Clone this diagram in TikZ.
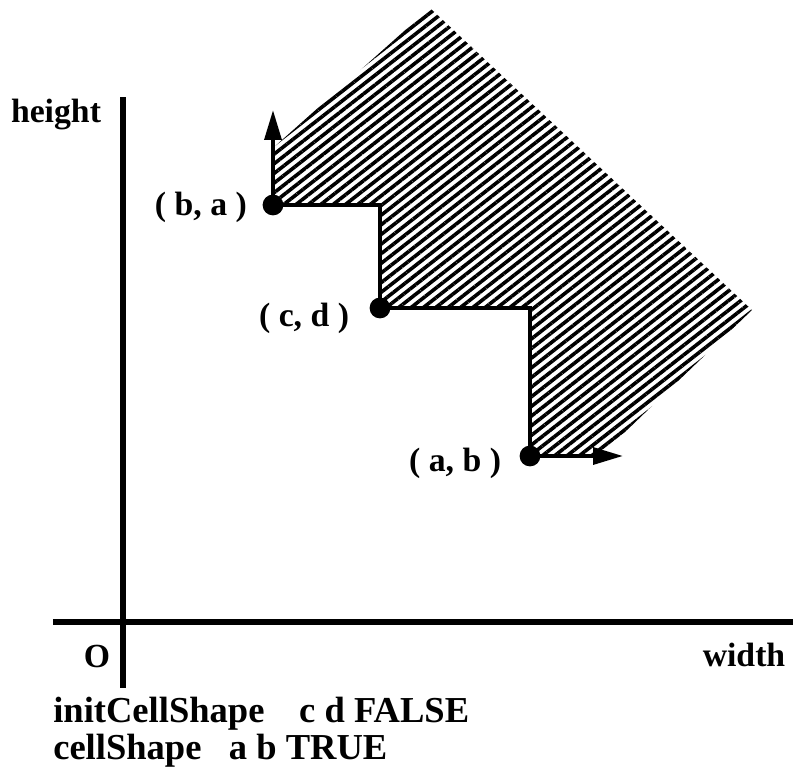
\documentclass[tikz,border=0pt]{standalone}
\usepackage{fontspec}
\setmainfont{Liberation Serif}
\usetikzlibrary{arrows.meta,patterns.meta,positioning}

\tikzset{
  axis/.style={line width=0.15cm},
  stair/.style={line width=0.12cm, line join=miter},
  dot/.style={circle, fill, inner sep=0pt, minimum size=0.52cm},
  growth/.style={line width=0.1cm, -{Triangle[length=0.75cm,width=0.42cm]}},
  ptlabel/.style={inner sep=0pt, font=\bfseries\fontsize{24}{28}\selectfont},
  axlabel/.style={inner sep=0pt, font=\bfseries\fontsize{24}{28}\selectfont},
  codeline/.style={inner sep=0pt, anchor=base west, font=\bfseries\fontsize{26}{30}\selectfont},
}

\begin{document}
\begin{tikzpicture}

  \useasboundingbox (-3.075,-4.025) rectangle (16.75,15.55);

  % Axes
  \coordinate (origin) at (0,0);
  \coordinate (xstart) at (-1.75,0);
  \coordinate (xend) at (16.75,0);
  \coordinate (ytop) at (0,13.125);
  \coordinate (ybot) at (0,-1.65);
  \draw[axis] (xstart) -- (xend);
  \draw[axis] (ybot) -- (ytop);

  % Corner points of the cell
  \coordinate (ba) at (3.75,10.425);
  \coordinate (cd) at (6.425,7.85);
  \coordinate (ab) at (10.175,4.15);
  \coordinate (step1) at (6.425,10.425);
  \coordinate (step2) at (10.175,7.85);

  % Hatched cell region
  \fill[pattern={Lines[angle=38,distance=0.19cm,line width=0.09cm]}]
    (ba) -- (3.75,11.85) -- (7.675,15.35) -- (15.725,7.8)
    -- (11.925,4.15) -- (ab) -- (step2) -- (cd) -- (step1) -- cycle;

  % Staircase edge
  \draw[stair] (ba) -- (step1) -- (cd) -- (step2) -- (ab);

  % Growth directions
  \coordinate (ba-up) at (3.75,12.8);
  \coordinate (ab-right) at (12.5,4.15);
  \draw[growth] (ba) -- (ba-up);
  \draw[growth] (ab) -- (ab-right);

  % Points and labels
  \node[dot] (ba-dot) at (ba) {};
  \node[dot] (cd-dot) at (cd) {};
  \node[dot] (ab-dot) at (ab) {};
  \node[ptlabel, left=0.38cm of ba-dot, yshift=-0.05cm] (ba-lbl) {( b, a )};
  \node[ptlabel, left=0.5cm of cd-dot, yshift=-0.25cm] (cd-lbl) {( c, d )};
  \node[ptlabel, left=0.45cm of ab-dot, yshift=-0.18cm] (ab-lbl) {( a, b )};

  % Labels on the axes
  \node[axlabel] (height) at (-1.675,12.675) {height};
  \node[axlabel, anchor=base] (o) at (-0.65,-1.15) {O};
  \node[axlabel, anchor=base] (width) at (15.525,-1.125) {width};

  % Calls
  \node[codeline] (init) at (-1.75,-2.525) {initCellShape\hspace{0.95em}c d FALSE};
  \node[codeline] (cell) at (-1.75,-3.45) {cellShape\hspace{0.75em}a b TRUE};

\end{tikzpicture}
\end{document}
